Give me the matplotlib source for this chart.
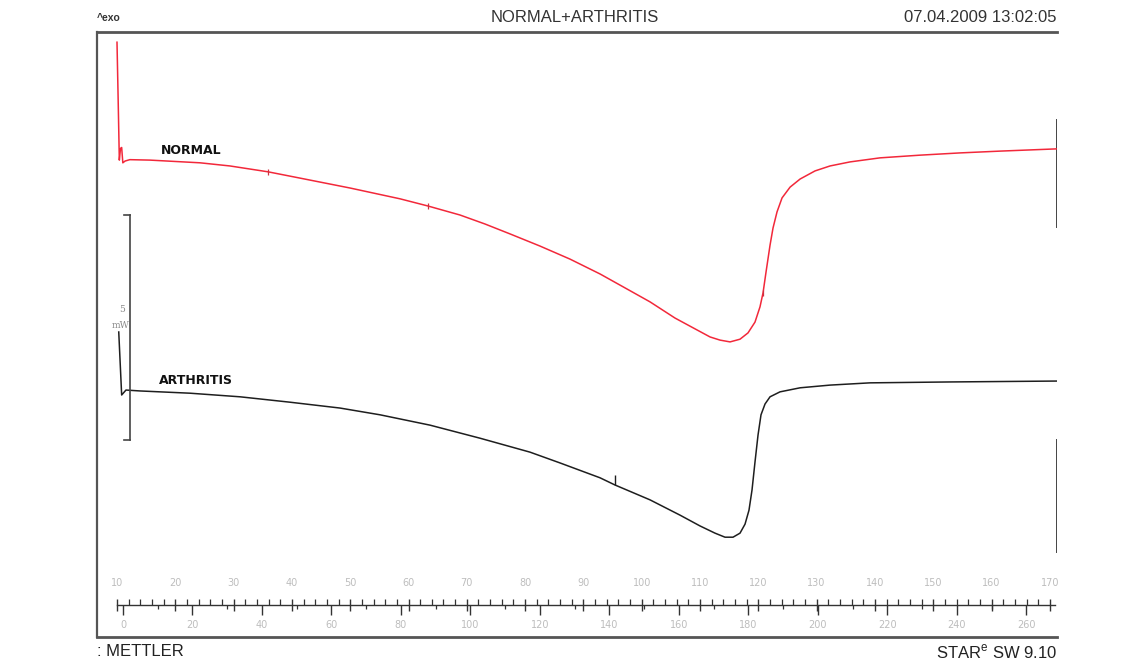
import matplotlib
matplotlib.use("Agg")
import matplotlib.pyplot as plt
from matplotlib.ticker import FixedLocator
import numpy as np

# ---------------- data ----------------
# temperature axis (top scale), heat flow in mW (exo up)
normal_T = [10.0, 10.2, 10.4, 10.6, 10.8, 11.0, 11.4, 12.2, 15.66, 24.24, 29.38, 35.90,
            41.39, 49.97, 58.54, 63.34, 68.83, 73.12, 77.41, 82.55, 87.70, 92.85,
            97.14, 101.42, 105.71, 109.14, 111.72, 113.43, 115.15, 116.86, 118.23,
            119.43, 120.29, 120.81, 121.32, 122.01, 122.52, 123.21, 124.07, 125.45,
            127.17, 129.73, 132.30, 135.73, 140.87, 147.73, 154.60, 161.46, 171.23]
normal_mW = [8.84, 7.56, 6.22, 6.48, 6.50, 6.16, 6.20, 6.23, 6.22, 6.16, 6.09, 5.96,
             5.82, 5.60, 5.36, 5.20, 5.00, 4.80, 4.58, 4.31, 4.02, 3.69,
             3.38, 3.07, 2.71, 2.47, 2.29, 2.22, 2.18, 2.24, 2.38,
             2.62, 2.96, 3.27, 3.73, 4.33, 4.71, 5.07, 5.38, 5.62,
             5.80, 5.98, 6.09, 6.18, 6.27, 6.33, 6.38, 6.42, 6.47]

arth_T = [10.3, 10.8, 11.54, 13.95, 22.52, 31.10, 39.67, 48.25, 55.11, 63.69, 72.26,
          80.84, 85.99, 92.85, 95.42, 101.42, 106.57, 110.00, 112.57, 114.29, 115.66,
          116.86, 117.72, 118.40, 118.92, 119.43, 119.95, 120.46, 121.15, 122.01,
          123.72, 127.17, 132.30, 139.16, 152.88, 171.23]
arth_mW = [2.40, 1.00, 1.11, 1.09, 1.04, 0.96, 0.84, 0.71, 0.56, 0.33, 0.04,
           -0.27, -0.51, -0.84, -1.00, -1.33, -1.67, -1.91, -2.07, -2.16, -2.16,
           -2.07, -1.87, -1.56, -1.11, -0.49, 0.11, 0.56, 0.80, 0.96,
           1.07, 1.16, 1.22, 1.27, 1.29, 1.31]

normal_marks_T = [35.9, 63.3, 120.8]
arth_marks_T = [95.4]

top_ticks = list(range(10, 171, 10))        # top ruler labels
top_minor = list(range(10, 171, 2))
bottom_ticks = list(range(0, 261, 20))      # bottom ruler labels
bottom_minor = list(range(10, 261, 20))
T0, rate = 11.03, 0.596                     # bottom scale:  T = T0 + rate * t

scale_bar_mW = 5
labels = ["NORMAL", "ARTHRITIS"]
title = "NORMAL+ARTHRITIS"
date_txt = "07.04.2009 13:02:05"

# ---------------- figure ----------------
W, H = 1140, 664
fig = plt.figure(figsize=(W / 100, H / 100), dpi=100)
fig.patch.set_facecolor("white")

def fx(px):
    return px / W

def fy(py):
    return (H - py) / H

L, R, T_, B = 97, 1057, 32, 637
ax = fig.add_axes([fx(L), fy(B), fx(R - L), (B - T_) / H])
xmin, xmax = 6.57, 171.23
ymin, ymax = -4.378, 9.067
ax.set_xlim(xmin, xmax)
ax.set_ylim(ymin, ymax)
ax.set_xticks([])
ax.set_yticks([])
for s in ["left", "top", "bottom"]:
    ax.spines[s].set_color("#555555")
ax.spines["left"].set_linewidth(1.6)
ax.spines["top"].set_linewidth(2.0)
ax.spines["bottom"].set_linewidth(2.0)
ax.spines["right"].set_visible(False)
ax.axvline(xmax, ymin=(B - 227) / (B - T_), ymax=(B - 120) / (B - T_), color="#444444", lw=1.4)
ax.axvline(xmax, ymin=(B - 552) / (B - T_), ymax=(B - 440) / (B - T_), color="#444444", lw=1.4)

# curves
ax.plot(normal_T, normal_mW, color="#f2283a", lw=1.1, solid_joinstyle="round")
ax.plot(arth_T, arth_mW, color="#1e1e1e", lw=1.1, solid_joinstyle="round")
ax.plot(normal_marks_T, np.interp(normal_marks_T, normal_T, normal_mW), ls="none",
        marker="|", ms=5, mew=0.9, color="#d03040")
ax.plot(arth_marks_T, np.interp(arth_marks_T, arth_T, arth_mW) + 0.1, ls="none",
        marker="|", ms=7, mew=1.0, color="#1e1e1e")

# curve labels
ax.text(17.5, 6.44, labels[0], fontsize=9, fontweight="bold", color="#111111",
        va="center", ha="left", family="DejaVu Sans")
ax.text(17.2, 1.33, labels[1], fontsize=9, fontweight="bold", color="#111111",
        va="center", ha="left", family="DejaVu Sans")

# scale bar (5 mW)
xb = 12.2
ax.plot([xb, xb], [0, scale_bar_mW], color="#444444", lw=1.2)
ax.plot([xb - 1.0, xb], [0, 0], color="#444444", lw=1.2)
ax.plot([xb - 1.0, xb], [scale_bar_mW, scale_bar_mW], color="#444444", lw=1.2)
ax.text(10.8, 2.89, "5", fontsize=6.5, color="#888888", ha="center", va="center",
        family="DejaVu Serif")
ax.text(10.6, 2.55, "mW", fontsize=6.5, color="#888888", ha="center", va="center",
        family="DejaVu Serif")

# ---------------- ruler ----------------
axr = fig.add_axes([fx(L), fy(605), fx(R - L), 0.00001])
axr.set_xlim(xmin, xmax)
axr.set_yticks([])
axr.patch.set_visible(False)
for s in ["left", "right", "top"]:
    axr.spines[s].set_visible(False)
axr.spines["bottom"].set_bounds(10, xmax - 0.3)
axr.spines["bottom"].set_color("#333333")
axr.spines["bottom"].set_linewidth(1.0)
axr.xaxis.set_ticks_position("top")
axr.xaxis.set_label_position("top")
axr.set_xticks(top_ticks)
axr.set_xticklabels([str(v) for v in top_ticks])
axr.xaxis.set_minor_locator(FixedLocator(top_minor))
axr.tick_params(axis="x", which="major", direction="inout", length=9, width=1.0,
                color="#333333", labelsize=7, labelcolor="#bdbdbd", pad=8)
axr.tick_params(axis="x", which="minor", direction="out", length=4, width=0.9,
                color="#333333")

sec = axr.secondary_xaxis("bottom", functions=(lambda T: (T - T0) / rate,
                                               lambda t: T0 + rate * t))
sec.set_xticks(bottom_ticks)
sec.set_xticklabels([str(v) for v in bottom_ticks])
sec.xaxis.set_minor_locator(FixedLocator(bottom_minor))
sec.spines["bottom"].set_visible(False)
sec.tick_params(axis="x", which="major", direction="out", length=7, width=1.0,
                color="#333333", labelsize=7, labelcolor="#bdbdbd", pad=4)
sec.tick_params(axis="x", which="minor", direction="out", length=3, width=0.9,
                color="#333333")

# ---------------- header / footer ----------------
fig.text(fx(97), fy(18), "^exo", fontsize=7.5, fontweight="bold", color="#333333",
         ha="left", va="center", family="Liberation Sans")
fig.text(fx(575), fy(18), title, fontsize=12, color="#333333", ha="center",
         va="center", family="Liberation Sans")
fig.text(fx(1057), fy(18), date_txt, fontsize=12, color="#333333", ha="right",
         va="center", family="Liberation Sans")
fig.text(fx(97), fy(652), ": METTLER", fontsize=12, color="#222222", ha="left",
         va="center", family="Liberation Sans")
fig.text(fx(1057), fy(652), r"STAR$^{\mathregular{e}}$ SW 9.10", fontsize=12,
         color="#222222", ha="right", va="center", family="Liberation Sans")

fig.savefig("out.png", dpi=100, facecolor="white")
